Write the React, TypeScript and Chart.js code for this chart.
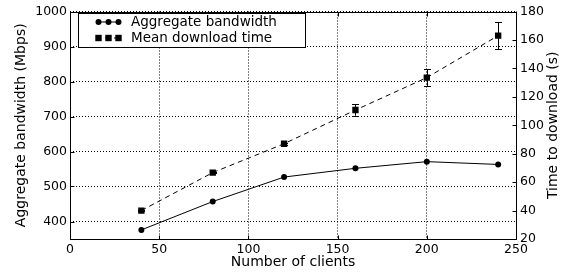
import React, { useEffect, useRef } from 'react';
import { Chart, registerables } from 'chart.js';
Chart.register(...registerables);

const clients = [40, 80, 120, 160, 200, 240];
const bandwidth = [376, 457, 527, 552, 571, 563];
const downloadTime = [40, 66.7, 87, 110.7, 133.5, 163];
const downloadErr = [0.5, 0.5, 0.8, 4, 5.8, 9.4];
const xTicks = [0, 50, 100, 150, 200, 250];
const leftTicks = [400, 500, 600, 700, 800, 900, 1000];
const rightTicks = [20, 40, 60, 80, 100, 120, 140, 160, 180];
const seriesNames = ['Aggregate bandwidth', 'Mean download time'];
const xTitle = 'Number of clients';
const leftTitle = 'Aggregate bandwidth (Mbps)';
const rightTitle = 'Time to download (s)';

const FONT = '"DejaVu Sans", "Bitstream Vera Sans", sans-serif';

const decorPlugin = {
  id: 'decor',
  afterDatasetsDraw(chart: any) {
    const { ctx, chartArea: a, scales } = chart;
    ctx.save();
    // error bars
    ctx.strokeStyle = '#000';
    ctx.lineWidth = 1;
    ctx.setLineDash([]);
    clients.forEach((c, i) => {
      const x = Math.round(scales.x.getPixelForValue(c)) + 0.5;
      const y1 = scales.y2.getPixelForValue(downloadTime[i] + downloadErr[i]);
      const y2 = scales.y2.getPixelForValue(downloadTime[i] - downloadErr[i]);
      ctx.beginPath();
      ctx.moveTo(x, y1);
      ctx.lineTo(x, y2);
      ctx.moveTo(x - 3.5, Math.round(y1) + 0.5);
      ctx.lineTo(x + 3.5, Math.round(y1) + 0.5);
      ctx.moveTo(x - 3.5, Math.round(y2) + 0.5);
      ctx.lineTo(x + 3.5, Math.round(y2) + 0.5);
      ctx.stroke();
    });
    // frame
    ctx.strokeStyle = '#000';
    ctx.lineWidth = 1;
    const L = Math.round(a.left) + 0.5;
    const T = Math.round(a.top) + 0.5;
    const R = Math.round(a.right) + 0.5;
    const B = Math.round(a.bottom) + 0.5;
    ctx.strokeRect(L, T, R - L, B - T);
    // inward tick marks
    const tl = 4;
    ctx.beginPath();
    xTicks.forEach((v) => {
      const x = Math.round(scales.x.getPixelForValue(v)) + 0.5;
      ctx.moveTo(x, B);
      ctx.lineTo(x, B - tl);
      ctx.moveTo(x, T);
      ctx.lineTo(x, T + tl);
    });
    leftTicks.forEach((v) => {
      const y = Math.round(scales.y.getPixelForValue(v)) + 0.5;
      ctx.moveTo(L, y);
      ctx.lineTo(L + tl, y);
    });
    rightTicks.forEach((v) => {
      const y = Math.round(scales.y2.getPixelForValue(v)) + 0.5;
      ctx.moveTo(R, y);
      ctx.lineTo(R - tl, y);
    });
    ctx.stroke();

    // legend
    const lx = 78.5, ly = 13.5, lw = 227, lh = 34;
    ctx.fillStyle = '#fff';
    ctx.fillRect(lx, ly, lw, lh);
    ctx.strokeRect(lx, ly, lw, lh);
    const rows = [22, 38];
    const mx = [98.5, 108.5, 118.5];
    ctx.beginPath();
    ctx.moveTo(96, rows[0]);
    ctx.lineTo(121, rows[0]);
    ctx.stroke();
    ctx.fillStyle = '#000';
    mx.forEach((x) => {
      ctx.beginPath();
      ctx.arc(x, rows[0], 3, 0, Math.PI * 2);
      ctx.fill();
    });
    ctx.setLineDash([5, 4]);
    ctx.beginPath();
    ctx.moveTo(96, rows[1]);
    ctx.lineTo(121, rows[1]);
    ctx.stroke();
    ctx.setLineDash([]);
    mx.forEach((x) => {
      ctx.fillRect(x - 3.2, rows[1] - 3.2, 6.4, 6.4);
    });
    ctx.font = `13.5px ${FONT}`;
    ctx.textBaseline = 'middle';
    ctx.textAlign = 'left';
    ctx.fillText(seriesNames[0], 131, rows[0] + 0.5);
    ctx.fillText(seriesNames[1], 131, rows[1] + 0.5);

    // right axis title (reads bottom-to-top)
    ctx.save();
    ctx.translate(553, (a.top + a.bottom) / 2);
    ctx.rotate(-Math.PI / 2);
    ctx.textAlign = 'center';
    ctx.textBaseline = 'middle';
    ctx.font = `14px ${FONT}`;
    ctx.fillText(rightTitle, 0, 0);
    ctx.restore();

    ctx.restore();
  },
};

export default function App() {
  const ref = useRef<HTMLCanvasElement>(null);
  useEffect(() => {
    document.body.style.margin = '0';
    const canvas = ref.current!;
    const tickFont = { family: FONT, size: 12.5 };
    const titleFont = { family: FONT, size: 14 };
    const dotGrid = { display: true, drawTicks: false, drawOnChartArea: true, color: '#000', lineWidth: 1 };
    const noGrid = { display: false, drawTicks: false, drawOnChartArea: false };
    const fmt = (v: any) => String(v);
    const chart = new Chart(canvas, {
      type: 'line',
      data: {
        datasets: [
          {
            label: seriesNames[0],
            data: clients.map((x, i) => ({ x, y: bandwidth[i] })),
            yAxisID: 'y',
            borderColor: '#000',
            backgroundColor: '#000',
            borderWidth: 1,
            pointStyle: 'circle',
            pointRadius: 3,
            pointBorderWidth: 0,
            pointBackgroundColor: '#000',
            tension: 0,
          },
          {
            label: seriesNames[1],
            data: clients.map((x, i) => ({ x, y: downloadTime[i] })),
            yAxisID: 'y2',
            borderColor: '#000',
            backgroundColor: '#000',
            borderWidth: 1,
            borderDash: [5, 4],
            pointStyle: 'rect',
            pointRadius: 4.5,
            pointBorderWidth: 0,
            pointBackgroundColor: '#000',
            tension: 0,
          },
        ],
      },
      options: {
        animation: false,
        responsive: false,
        devicePixelRatio: 1,
        layout: { padding: { top: 10, left: 0, right: 0, bottom: 0 } },
        plugins: { legend: { display: false }, tooltip: { enabled: false } },
        scales: {
          x: {
            type: 'linear',
            position: 'bottom',
            min: 0,
            max: 250,
            grid: dotGrid,
            border: { display: false, dash: [1, 2] },
            afterBuildTicks: (s: any) => {
              s.ticks = xTicks.map((v) => ({ value: v }));
            },
            afterFit: (s: any) => {
              s.height = 36;
            },
            ticks: { font: tickFont, color: '#000', padding: 3, maxRotation: 0, callback: fmt },
            title: { display: true, text: xTitle, font: titleFont, color: '#000', padding: { top: 0, bottom: 4 } },
          },
          y: {
            type: 'linear',
            position: 'left',
            min: 350,
            max: 1000,
            grid: dotGrid,
            border: { display: false, dash: [1, 2] },
            afterBuildTicks: (s: any) => {
              s.ticks = leftTicks.map((v) => ({ value: v }));
            },
            afterFit: (s: any) => {
              s.width = 70;
            },
            ticks: { font: tickFont, color: '#000', padding: 3, callback: fmt },
            title: { display: true, text: leftTitle, font: titleFont, color: '#000', padding: { top: 13, bottom: 0 } },
          },
          y2: {
            type: 'linear',
            position: 'right',
            min: 20,
            max: 180,
            grid: noGrid,
            border: { display: false },
            afterBuildTicks: (s: any) => {
              s.ticks = rightTicks.map((v) => ({ value: v }));
            },
            afterFit: (s: any) => {
              s.width = 49;
            },
            ticks: { font: tickFont, color: '#000', padding: 4, callback: fmt },
          },
        },
      },
      plugins: [decorPlugin],
    });
    return () => chart.destroy();
  }, []);
  return (
    <div style={{ width: 565, height: 275, background: '#fff' }}>
      <canvas ref={ref} width={565} height={275} style={{ display: 'block' }} />
    </div>
  );
}
